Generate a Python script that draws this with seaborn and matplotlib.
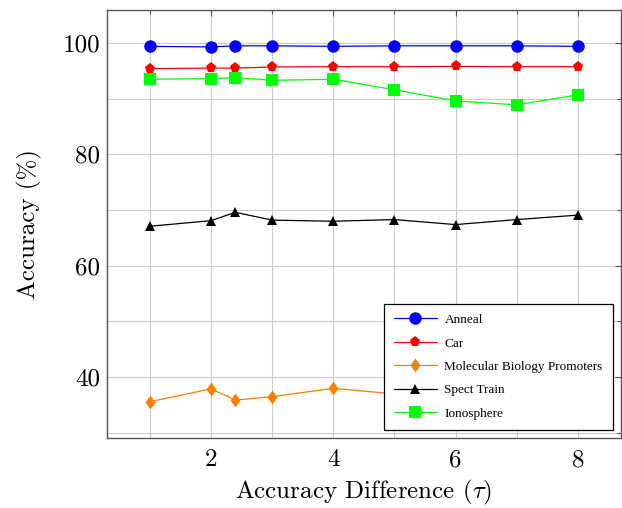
import numpy as np
import pandas as pd
import matplotlib
matplotlib.use("Agg")
import matplotlib.pyplot as plt
import seaborn as sns
from matplotlib.ticker import MultipleLocator
from matplotlib.path import Path

tau = [1, 2, 2.4, 3, 4, 5, 6, 7, 8]
anneal = [99.4, 99.3, 99.5, 99.5, 99.4, 99.5, 99.5, 99.5, 99.4]
car = [95.4, 95.5, 95.5, 95.7, 95.75, 95.75, 95.8, 95.75, 95.75]
promoters = [35.6, 37.9, 35.9, 36.5, 38.0, 37.0, 36.8, 37.2, 37.5]
spect = [67.1, 68.1, 69.6, 68.2, 68.0, 68.3, 67.4, 68.3, 69.1]
iono = [93.5, 93.6, 93.8, 93.3, 93.5, 91.6, 89.6, 88.9, 90.7]

series_names = ["Anneal", "Car", "Molecular Biology Promoters", "Spect Train", "Ionosphere"]
series_vals = [anneal, car, promoters, spect, iono]
colors = ["#0000ff", "#ff0000", "#ff8000", "#000000", "#00ff00"]
diamond = Path([(0, 1), (0.72, 0), (0, -1), (-0.72, 0), (0, 1)],
               [Path.MOVETO, Path.LINETO, Path.LINETO, Path.LINETO, Path.CLOSEPOLY])
markers = ["o", "p", diamond, "^", "s"]
msizes = [9, 8, 10, 7.5, 9]

sns.set_theme(style="whitegrid")
plt.rcParams["mathtext.fontset"] = "cm"
plt.rcParams["text.color"] = "black"
plt.rcParams["axes.labelcolor"] = "black"
plt.rcParams["xtick.color"] = "black"
plt.rcParams["ytick.color"] = "black"

fig = plt.figure(figsize=(6.22, 5.08), dpi=100)
ax = fig.add_axes([0.172, 0.138, 0.826, 0.842])

for name, vals, c, m, ms in zip(series_names, series_vals, colors, markers, msizes):
    df = pd.DataFrame({"tau": tau, "acc": vals})
    sns.lineplot(data=df, x="tau", y="acc", ax=ax, color=c, marker=m,
                 markersize=ms, markeredgewidth=0, linewidth=0.9, label=name,
                 zorder=3)

ax.set_xlim(0.3, 8.7)
ax.set_ylim(29.1, 105.9)
ax.xaxis.set_major_locator(MultipleLocator(2))
ax.xaxis.set_minor_locator(MultipleLocator(1))
ax.yaxis.set_major_locator(MultipleLocator(20))
ax.yaxis.set_minor_locator(MultipleLocator(10))
ax.grid(True, which="both", color="#cccccc", linewidth=0.8)
ax.set_facecolor("white")
for s in ax.spines.values():
    s.set_color("#555555")
    s.set_linewidth(1.0)
ax.tick_params(which="both", direction="in", top=True, right=True,
               color="#555555", labelcolor="black", length=4, width=0.8,
               labelsize=18, pad=5)
ax.tick_params(axis="x", which="both", pad=8)
ax.tick_params(which="minor", length=3)
for lab in ax.get_xticklabels() + ax.get_yticklabels():
    lab.set_fontfamily("cmr10")

ax.set_xlabel(r"Accuracy Difference ($\tau$)", fontsize=18, family="cmr10", labelpad=5, color="black")
ax.set_ylabel("Accuracy (%)", fontsize=18, family="cmr10", labelpad=15, color="black")

leg = ax.legend(loc="lower right", bbox_to_anchor=(0.984, 0.019), frameon=True,
                fancybox=False, edgecolor="black", framealpha=1,
                prop={"family": "Liberation Serif", "size": 9.5},
                handlelength=3.3, handletextpad=0.55, labelspacing=0.85,
                borderpad=0.75, borderaxespad=0)
leg.get_frame().set_linewidth(0.9)
leg.set_zorder(5)
for t in leg.get_texts():
    t.set_color("black")

fig.savefig("out.png", dpi=100)
